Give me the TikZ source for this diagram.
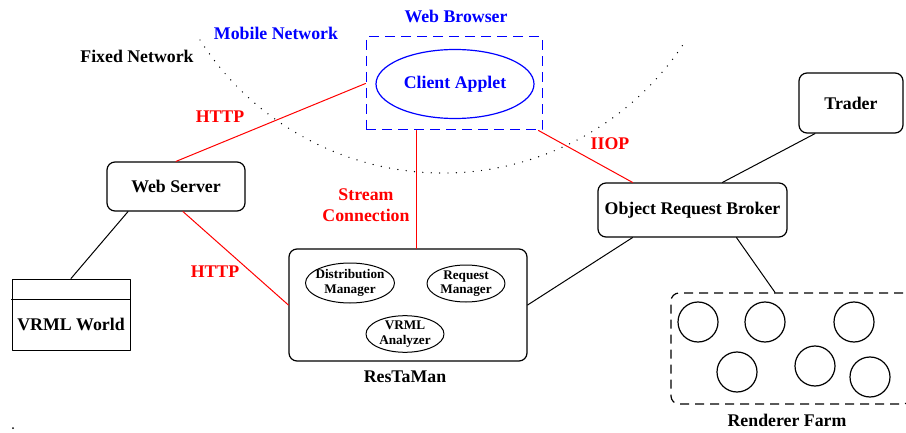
\documentclass[tikz,border=0pt]{standalone}
\usepackage{fontspec}
\setmainfont{Liberation Serif}
\usetikzlibrary{shapes.geometric}

\begin{document}
\begin{tikzpicture}[x=0.5pt, y=-0.5pt, line cap=round, line join=round,
  font=\fontsize{8.9}{10.7}\selectfont\bfseries,
  box/.style={draw, rounded corners=4pt, line width=0.6pt},
  oval/.style={draw, ellipse, line width=0.5pt, inner xsep=-2pt, inner ysep=0pt,
    align=center, font=\fontsize{6.6}{7.2}\selectfont\bfseries},
  link/.style={line width=0.5pt},
  redlink/.style={red, line width=0.5pt}]

\useasboundingbox (0,0) rectangle (906,433);

% --- Network boundary ---
\draw[line width=0.7pt, dash pattern=on 0pt off 4.2pt]
  (200,40) arc[start angle=147.4, end angle=32.9, radius=288.5];

% --- Nodes ---
% Web browser with the client applet
\node[draw=blue, line width=0.5pt, line cap=butt, dash pattern=on 5pt off 3pt,
  minimum width=88pt, minimum height=46.5pt] (browser) at (454,83.5) {};
\node[draw=blue, ellipse, line width=0.6pt, text=blue, inner sep=0pt,
  minimum width=79pt, minimum height=34.5pt] (applet) at (455,84) {Client Applet};

% Servers on the fixed network
\node[box, minimum width=69pt, minimum height=24.5pt] (ws) at (176,186.5) {Web Server};
\node[draw, line width=0.5pt, minimum width=59pt, minimum height=35.5pt] (vw) at (71,314.5) {};
\node[box, minimum width=119pt, minimum height=56pt] (rt) at (408,305) {};
\node[oval, minimum width=44.5pt, minimum height=20pt] (dm) at (350,283) {Distribution\\Manager};
\node[oval, minimum width=39pt, minimum height=18.5pt] (rm) at (466,283.5) {Request\\Manager};
\node[oval, minimum width=39pt, minimum height=17pt] (va) at (405,334) {VRML\\Analyzer};
\node[box, minimum width=93.5pt, minimum height=27pt] (orb) at (692.5,210) {Object Request Broker};
\node[box, minimum width=52pt, minimum height=30pt] (trader) at (851,103) {Trader};

% Renderer farm
\node[draw, rounded corners=4pt, line width=0.6pt, line cap=butt, dash pattern=on 4.5pt off 3pt,
  minimum width=120pt, minimum height=55.5pt] (farm) at (791,348.5) {};
\node[draw, circle, line width=0.6pt, inner sep=0pt, minimum size=20pt] (r1) at (698,322) {};
\node[draw, circle, line width=0.6pt, inner sep=0pt, minimum size=20pt] (r2) at (765,322) {};
\node[draw, circle, line width=0.6pt, inner sep=0pt, minimum size=20pt] (r3) at (854,322) {};
\node[draw, circle, line width=0.6pt, inner sep=0pt, minimum size=20pt] (r4) at (737,372) {};
\node[draw, circle, line width=0.6pt, inner sep=0pt, minimum size=20pt] (r5) at (815,366) {};
\node[draw, circle, line width=0.6pt, inner sep=0pt, minimum size=20pt] (r6) at (870,377) {};

% --- Connections ---
\draw[redlink] (browser.west) -- (ws.north);
\draw[redlink] ([xshift=-19pt]browser.south) -- ([xshift=4pt]rt.north);
\draw[redlink] ([xshift=-2pt]browser.south east) -- ([xshift=-30pt]orb.north);
\draw[redlink] ([xshift=3.5pt]ws.south) -- (rt.west);
\draw[link] ([xshift=-24pt]ws.south) -- (vw.north);
\draw[link] ([xshift=15pt]orb.north) -- ([xshift=-18pt]trader.south);
\draw[link] ([xshift=-30pt]orb.south) -- (rt.east);
\draw[link] ([xshift=22pt]orb.south) -- ([xshift=-8pt]farm.north);

% VRML world header line
\draw[line width=0.5pt] ([yshift=-10.5pt]vw.north west) -- ([yshift=-10.5pt]vw.north east);

% --- Labels ---
\node[blue] (wbl) at (456,16) {Web Browser};
\node[blue] (mnl) at (276,33) {Mobile Network};
\node (fnl) at (137,56) {Fixed Network};
\node[red] (http1) at (220,117) {HTTP};
\node[red] (http2) at (215,272) {HTTP};
\node[red, align=center] (scl) at (366,205) {Stream\\Connection};
\node[red] (iiop) at (610,144) {IIOP};
\node (vwl) at ([yshift=-4.75pt]vw.center) {VRML World};
\node (rtl) at (405,377) {ResTaMan};
\node (rfl) at (787,420) {Renderer Farm};
\fill (13,428) circle (0.5pt);

\end{tikzpicture}
\end{document}
